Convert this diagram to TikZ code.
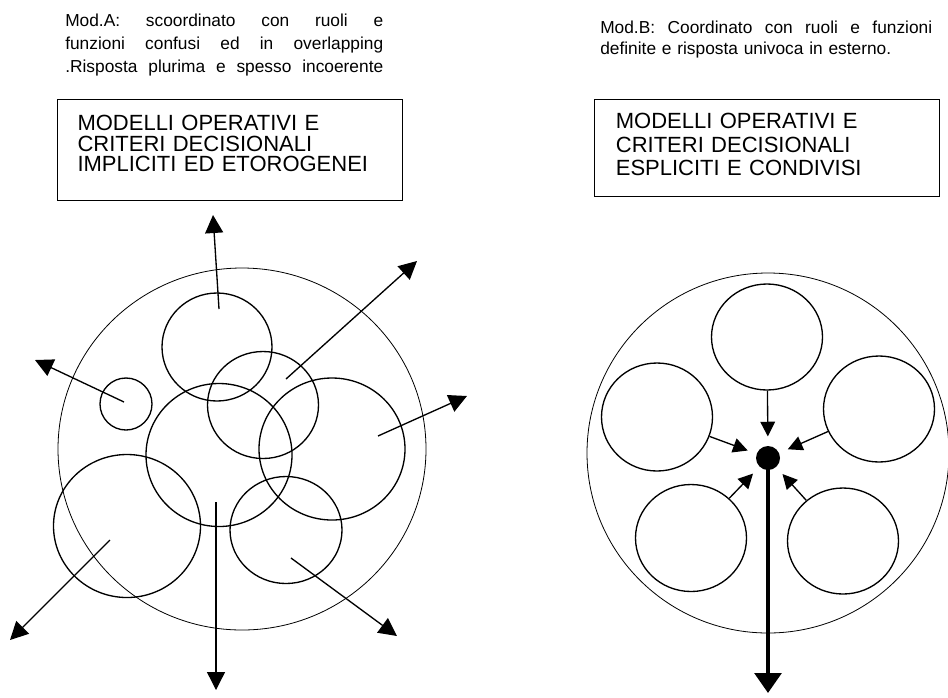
\documentclass[tikz,border=0pt]{standalone}
\usepackage{fontspec}
\setmainfont{Liberation Sans}
\usetikzlibrary{arrows.meta,shapes.geometric}

\newcommand{\rigagiusta}[2]{\makebox[#1][s]{\spaceskip=0pt\xspaceskip=0pt\relax #2}}

\begin{document}
\begin{tikzpicture}
  [x=0.75pt,y=-0.75pt,
    every node/.style={inner sep=0pt},
    contorno/.style={draw,ellipse,line width=0.6pt},
    cerchio/.style={draw,ellipse,line width=1pt},
    freccia/.style={-{Triangle[length=13.5pt,width=13.5pt]},line width=1pt},
    verso/.style={-{Triangle[length=11pt,width=11pt]},line width=1pt,shorten >=7pt},
    uscita/.style={-{Triangle[length=15pt,width=20pt]},line width=3pt},
    riquadro/.style={draw,line width=0.8pt,anchor=north west,align=left},
    titolo/.style={anchor=base west,align=left},
  ]
  \useasboundingbox (0,0) rectangle (948,697);

  \node[titolo,text width=238.5pt,font=\fontsize{13pt}{17.25pt}\selectfont] (titoloA) at (65,26)
    {\rigagiusta{238.5pt}{Mod.A: scoordinato con ruoli e}\\
     \rigagiusta{238.5pt}{funzioni confusi ed in overlapping}\\
     \rigagiusta{238.5pt}{.Risposta plurima e spesso incoerente}};
  \node[titolo,text width=249pt,font=\fontsize{13pt}{15.75pt}\selectfont] (titoloB) at (600,33)
    {\rigagiusta{249pt}{Mod.B: Coordinato con ruoli e funzioni}\\
     definite e risposta univoca in esterno.};

  \node[riquadro,text width=228.75pt,inner xsep=15pt,text height=23.25pt,text depth=52.5pt,
    font=\fontsize{16.5pt}{15.5pt}\selectfont] (boxA) at (57,99)
    {MODELLI OPERATIVI E\\CRITERI DECISIONALI\\IMPLICITI ED ETOROGENEI};
  \node[riquadro,text width=226.75pt,inner xsep=16pt,text height=21.75pt,text depth=51pt,
    font=\fontsize{16.5pt}{17.6pt}\selectfont] (boxB) at (594,99)
    {MODELLI OPERATIVI E\\CRITERI DECISIONALI\\ESPLICITI E CONDIVISI};

  % Mod.A
  \node[contorno,minimum width=276pt,minimum height=271.5pt] (esternoA) at (242,449) {};
  \node[cerchio,minimum width=82.5pt,minimum height=81pt] (a1) at (217,347) {};
  \node[cerchio,minimum width=39pt,minimum height=39pt] (a2) at (126,404) {};
  \node[cerchio,minimum width=83.25pt,minimum height=80.25pt] (a3) at (263,405) {};
  \node[cerchio,minimum width=109.5pt,minimum height=107.25pt] (a4) at (219,455) {};
  \node[cerchio,minimum width=109.5pt,minimum height=106.5pt] (a5) at (332,449) {};
  \node[cerchio,minimum width=110.25pt,minimum height=107.25pt] (a6) at (127,526) {};
  \node[cerchio,minimum width=84pt,minimum height=80.25pt] (a7) at (286,530) {};

  \coordinate (da1) at (219,309);
  \coordinate (da2) at (124,402);
  \coordinate (da3) at (286,379);
  \coordinate (da4) at (216,502);
  \coordinate (da5) at (378,436);
  \coordinate (da6) at (110,540);
  \coordinate (da7) at (291,558);
  \coordinate (pa1) at (213,215);
  \coordinate (pa2) at (35,360);
  \coordinate (pa3) at (417,261);
  \coordinate (pa4) at (216,690);
  \coordinate (pa5) at (467,396);
  \coordinate (pa6) at (10,640);
  \coordinate (pa7) at (397,636);

  \draw[freccia] (da1) -- (pa1);
  \draw[freccia] (da2) -- (pa2);
  \draw[freccia] (da3) -- (pa3);
  \draw[freccia] (da4) -- (pa4);
  \draw[freccia] (da5) -- (pa5);
  \draw[freccia] (da6) -- (pa6);
  \draw[freccia] (da7) -- (pa7);

  % Mod.B
  \node[contorno,minimum width=271.5pt,minimum height=270pt] (esternoB) at (768,453) {};
  \node[cerchio,minimum width=83.25pt,minimum height=79.5pt] (b1) at (767,337) {};
  \node[cerchio,minimum width=83.25pt,minimum height=81pt] (b2) at (657,417) {};
  \node[cerchio,minimum width=83.25pt,minimum height=79.5pt] (b3) at (879,409) {};
  \node[cerchio,minimum width=83.25pt,minimum height=80.25pt] (b4) at (691,538) {};
  \node[cerchio,minimum width=83.25pt,minimum height=79.5pt] (b5) at (843,541) {};
  \node[circle,fill,minimum size=18pt] (hub) at (768,458) {};
  \coordinate (fine) at (768,693);

  \draw[verso] (b1) -- (hub);
  \draw[verso] (b2) -- (hub);
  \draw[verso] (b3) -- (hub);
  \draw[verso] (b4) -- (hub);
  \draw[verso] (b5) -- (hub);
  \draw[uscita] (hub.center) -- (fine);
\end{tikzpicture}
\end{document}
